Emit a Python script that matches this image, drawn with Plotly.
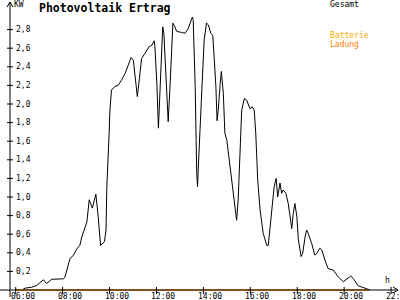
import plotly.graph_objects as go

# ---- data ----
gesamt_times = [
    "06:16", "06:24", "06:41", "06:54", "07:11", "07:19", "07:32", "08:02", "08:06", "08:19",
    "08:27", "08:36", "08:44", "08:49", "09:02", "09:08", "09:16", "09:25", "09:31", "09:37",
    "09:47", "09:51", "09:53", "09:57", "09:59", "10:01", "10:05", "10:14", "10:22", "10:31",
    "10:40", "10:48", "10:55", "11:01", "11:05", "11:11", "11:16", "11:22", "11:33", "11:42",
    "11:48", "11:54", "11:56", "12:01", "12:05", "12:09", "12:13", "12:16", "12:19", "12:22",
    "12:26", "12:30", "12:35", "12:39", "12:42", "12:47", "12:52", "13:04", "13:13", "13:21",
    "13:32", "13:34", "13:39", "13:43", "13:45", "13:49", "13:56", "14:02", "14:08", "14:13",
    "14:19", "14:24", "14:28", "14:32", "14:35", "14:38", "14:43", "14:46", "14:51", "14:55",
    "15:00", "15:08", "15:17", "15:23", "15:25", "15:29", "15:34", "15:38", "15:45", "15:51",
    "15:59", "16:05", "16:10", "16:14", "16:19", "16:25", "16:33", "16:42", "16:46", "16:50",
    "16:55", "17:01", "17:06", "17:10", "17:16", "17:20", "17:24", "17:31", "17:37", "17:42",
    "17:46", "17:50", "17:54", "17:59", "18:03", "18:10", "18:14", "18:20", "18:24", "18:28",
    "18:37", "18:45", "18:50", "18:58", "19:03", "19:11", "19:19", "19:32", "19:45", "19:58",
    "20:06", "20:17", "20:23", "20:36", "20:53", "21:06",
]
gesamt_kw = [
    0.00, 0.02, 0.03, 0.05, 0.11, 0.07, 0.115, 0.12, 0.14, 0.34,
    0.37, 0.44, 0.48, 0.57, 0.73, 0.97, 0.88, 1.03, 0.79, 0.48,
    0.52, 0.645, 1.10, 1.40, 1.69, 1.935, 2.15, 2.19, 2.20, 2.26,
    2.33, 2.42, 2.50, 2.47, 2.33, 2.08, 2.26, 2.49, 2.56, 2.62,
    2.63, 2.68, 2.62, 2.22, 1.74, 2.115, 2.47, 2.83, 2.76, 2.51,
    2.04, 1.81, 2.22, 2.62, 2.87, 2.83, 2.78, 2.77, 2.76, 2.81,
    2.935, 2.90, 2.20, 1.255, 1.11, 1.505, 2.22, 2.69, 2.87, 2.85,
    2.76, 2.74, 2.47, 2.19, 1.82, 1.935, 2.22, 2.35, 2.115, 1.685,
    1.61, 1.33, 1.04, 0.79, 0.75, 0.97, 1.47, 1.935, 2.06, 2.04,
    1.95, 1.97, 1.935, 1.685, 1.18, 0.86, 0.61, 0.48, 0.48, 0.645,
    0.90, 1.11, 1.20, 1.00, 1.15, 1.04, 1.075, 1.04, 0.93, 0.79,
    0.66, 0.825, 0.93, 0.79, 0.54, 0.36, 0.395, 0.57, 0.645, 0.61,
    0.50, 0.375, 0.395, 0.45, 0.43, 0.32, 0.23, 0.215, 0.14, 0.09,
    0.115, 0.15, 0.125, 0.045, 0.02, 0.00,
]
ladung_times = ["06:00", "21:00"]
ladung_kw = [0.0, 0.0]

y_ticks = [0.2, 0.4, 0.6, 0.8, 1.0, 1.2, 1.4, 1.6, 1.8, 2.0, 2.2, 2.4, 2.6, 2.8]
x_ticks = ["06:00", "08:00", "10:00", "12:00", "14:00", "16:00", "18:00", "20:00", "22:00"]

TITLE = "Photovoltaik Ertrag"
Y_UNIT = "KW"
X_UNIT = "h"
LEG = ["Gesamt", "Batterie", "Ladung"]


def hours(s):
    h, m = s.split(":")
    return int(h) + int(m) / 60.0


# ---- layout geometry (pixels) ----
W, H = 400, 300
PX_PER_H = 23.46
X0_PX = 15.7          # pixel of 06:00
Y0_PX = 290.0         # pixel of 0 kW
PX_PER_KW = 93.0
x_lo = 6 - X0_PX / PX_PER_H
x_hi = 6 + (W - X0_PX) / PX_PER_H
y_hi = Y0_PX / PX_PER_KW
y_lo = -(H - Y0_PX) / PX_PER_KW


def px(xp):
    return xp / W


def py(yp):
    return 1 - yp / H


FONT = "DejaVu Sans Mono"
ORANGE = "#ff8000"
GOLD = "#ffaa00"

fig = go.Figure()
fig.add_trace(go.Scatter(x=[hours(t) for t in gesamt_times], y=gesamt_kw, mode="lines",
                         line=dict(color="black", width=1), hoverinfo="skip"))
fig.add_trace(go.Scatter(x=[hours(t) for t in ladung_times], y=ladung_kw, mode="lines",
                         line=dict(color=ORANGE, width=1.5), hoverinfo="skip"))

shapes = []
line_k = dict(color="black", width=1)
# y axis with arrow
shapes.append(dict(type="line", xref="paper", yref="paper", x0=px(10), x1=px(10), y0=py(297), y1=py(2), line=line_k))
shapes.append(dict(type="line", xref="paper", yref="paper", x0=px(7), x1=px(10), y0=py(7), y1=py(2), line=line_k))
shapes.append(dict(type="line", xref="paper", yref="paper", x0=px(13), x1=px(10), y0=py(7), y1=py(2), line=line_k))
# x axis with arrow
shapes.append(dict(type="line", xref="paper", yref="paper", x0=0, x1=px(398), y0=py(290), y1=py(290), line=line_k))
shapes.append(dict(type="line", xref="paper", yref="paper", x0=px(393), x1=px(398), y0=py(287), y1=py(290), line=line_k))
shapes.append(dict(type="line", xref="paper", yref="paper", x0=px(393), x1=px(398), y0=py(293), y1=py(290), line=line_k))

annotations = []
for v in y_ticks:
    shapes.append(dict(type="line", xref="paper", yref="y", x0=px(7), x1=px(13), y0=v, y1=v, line=line_k))
    annotations.append(dict(xref="paper", yref="y", x=px(14), y=v, xanchor="left", yanchor="middle",
                            text=f"{v:.1f}".replace(".", ","), showarrow=False,
                            font=dict(family=FONT, size=8, color="black")))
for t in x_ticks:
    xv = hours(t)
    shapes.append(dict(type="line", xref="x", yref="paper", x0=xv, x1=xv, y0=py(287), y1=py(294), line=line_k))
    annotations.append(dict(xref="x", yref="paper", x=xv + 7 / PX_PER_H, y=py(290), xanchor="center", yanchor="top",
                            text=t, showarrow=False, font=dict(family=FONT, size=8, color="black")))


def label(text, xp, yp, color="black", size=8, bold=False):
    annotations.append(dict(xref="paper", yref="paper", x=px(xp), y=py(yp), xanchor="left", yanchor="middle",
                            text=f"<b>{text}</b>" if bold else text, showarrow=False,
                            font=dict(family=FONT, size=size, color=color)))


label(TITLE, 37, 7.5, size=11.5, bold=True)
label(Y_UNIT, 12, 4.5)
label(X_UNIT, 383, 280.5)
label(LEG[0], 328, 4.5)
label(LEG[1], 328, 35.5, color=GOLD)
label(LEG[2], 328, 44, color=ORANGE)

fig.update_layout(
    width=W, height=H, margin=dict(l=0, r=0, t=0, b=0),
    paper_bgcolor="white", plot_bgcolor="white", showlegend=False,
    xaxis=dict(range=[x_lo, x_hi], visible=False, fixedrange=True),
    yaxis=dict(range=[y_lo, y_hi], visible=False, fixedrange=True),
    shapes=shapes, annotations=annotations,
)
fig.write_html("out.html", config={"displayModeBar": False})
